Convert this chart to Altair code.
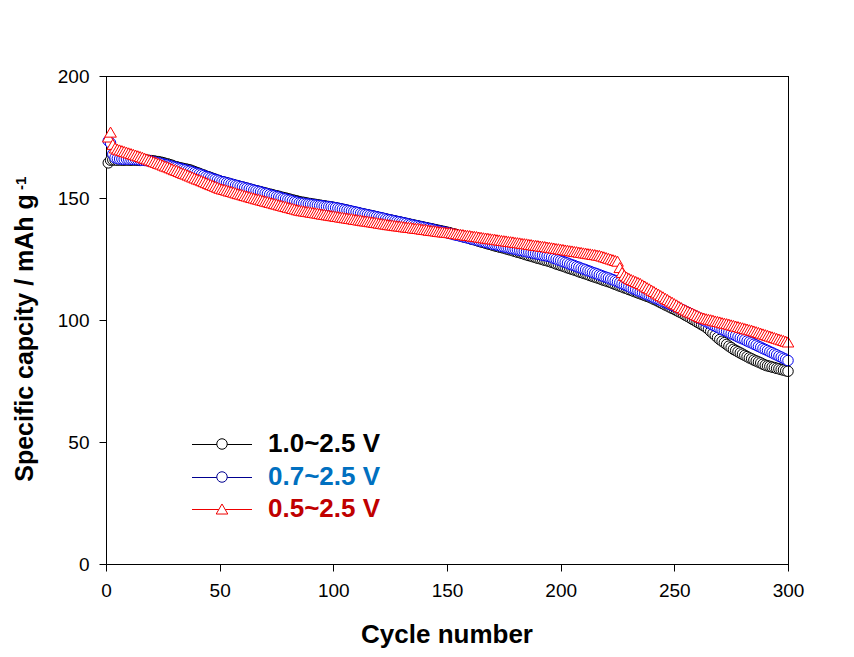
import altair as alt
import pandas as pd

# ---------------- data ----------------
cycles = list(range(1, 301))

cap_10 = [
    164.4, 165.5, 165.6, 165.6, 165.5, 165.6, 165.5, 165.5, 165.6, 165.5,
    165.5, 165.6, 165.5, 165.5, 165.4, 165.5, 165.6, 165.5, 165.4, 165.3,
    165.2, 165.0, 164.9, 164.7, 164.5, 164.2, 164.0, 163.7, 163.4, 163.0,
    162.8, 162.5, 162.3, 162.1, 161.9, 161.7, 161.5, 161.1, 160.8, 160.4,
    160.1, 159.7, 159.4, 159.0, 158.7, 158.4, 158.0, 157.7, 157.3, 157.0,
    156.7, 156.5, 156.2, 156.0, 155.7, 155.5, 155.2, 155.0, 154.7, 154.5,
    154.2, 154.0, 153.7, 153.5, 153.2, 153.0, 152.8, 152.5, 152.3, 152.1,
    151.8, 151.6, 151.4, 151.1, 150.9, 150.7, 150.4, 150.2, 150.0, 149.7,
    149.5, 149.2, 149.0, 148.8, 148.5, 148.3, 148.2, 148.0, 147.8, 147.7,
    147.5, 147.4, 147.2, 147.1, 146.9, 146.8, 146.6, 146.5, 146.3, 146.2,
    146.0, 145.8, 145.6, 145.4, 145.2, 145.0, 144.8, 144.5, 144.3, 144.1,
    143.9, 143.7, 143.5, 143.3, 143.1, 142.9, 142.7, 142.5, 142.3, 142.0,
    141.8, 141.6, 141.4, 141.2, 141.0, 140.8, 140.6, 140.4, 140.2, 140.0,
    139.8, 139.6, 139.4, 139.2, 139.0, 138.8, 138.6, 138.4, 138.2, 138.0,
    137.8, 137.6, 137.4, 137.2, 137.0, 136.8, 136.6, 136.4, 136.2, 136.0,
    135.8, 135.5, 135.3, 135.0, 134.7, 134.5, 134.2, 133.9, 133.7, 133.4,
    133.1, 132.9, 132.6, 132.3, 132.0, 131.8, 131.5, 131.2, 131.0, 130.7,
    130.4, 130.2, 129.9, 129.7, 129.5, 129.2, 128.9, 128.7, 128.4, 128.1,
    127.8, 127.6, 127.3, 127.0, 126.7, 126.4, 126.2, 125.9, 125.6, 125.3,
    125.1, 124.8, 124.5, 124.3, 124.0, 123.7, 123.4, 123.0, 122.7, 122.4,
    122.1, 121.8, 121.4, 121.1, 120.8, 120.5, 120.2, 119.8, 119.5, 119.2,
    118.9, 118.6, 118.2, 117.9, 117.6, 117.3, 117.0, 116.6, 116.3, 116.0,
    115.7, 115.4, 115.0, 114.6, 114.3, 113.9, 113.6, 113.2, 112.9, 112.5,
    112.2, 111.8, 111.5, 111.1, 110.8, 110.4, 110.1, 109.7, 109.4, 109.0,
    108.5, 108.1, 107.6, 107.1, 106.7, 106.2, 105.8, 105.3, 104.8, 104.4,
    103.9, 103.4, 103.0, 102.5, 101.9, 101.4, 100.9, 100.3, 99.8, 99.2,
    98.7, 98.1, 97.6, 97.0, 96.2, 95.3, 94.5, 93.7, 92.8, 92.0,
    91.3, 90.7, 90.0, 89.3, 88.7, 88.0, 87.5, 87.0, 86.5, 86.0,
    85.5, 85.0, 84.5, 84.1, 83.6, 83.2, 82.8, 82.4, 81.9, 81.5,
    81.2, 81.0, 80.7, 80.5, 80.2, 80.0, 79.7, 79.5, 79.2, 79.0,
]

cap_07 = [
    173.4, 172.5, 168.0, 166.5, 166.2, 166.0, 166.0, 165.9, 166.0, 165.9,
    165.9, 165.8, 165.8, 165.7, 165.6, 165.5, 165.4, 165.3, 165.2, 165.0,
    164.8, 164.6, 164.4, 164.2, 164.0, 163.7, 163.5, 163.2, 163.0, 162.7,
    162.5, 162.2, 162.0, 161.7, 161.5, 161.2, 161.0, 160.7, 160.4, 160.1,
    159.8, 159.5, 159.2, 158.8, 158.5, 158.2, 157.9, 157.6, 157.3, 157.0,
    156.7, 156.5, 156.2, 156.0, 155.7, 155.5, 155.2, 155.0, 154.7, 154.5,
    154.2, 154.0, 153.7, 153.5, 153.2, 153.0, 152.7, 152.5, 152.2, 151.9,
    151.7, 151.4, 151.1, 150.9, 150.6, 150.4, 150.1, 149.8, 149.6, 149.3,
    149.1, 148.8, 148.5, 148.3, 148.0, 147.9, 147.8, 147.6, 147.5, 147.4,
    147.3, 147.1, 147.0, 146.9, 146.8, 146.6, 146.5, 146.4, 146.3, 146.1,
    146.0, 145.8, 145.6, 145.4, 145.2, 145.0, 144.8, 144.6, 144.4, 144.2,
    144.0, 143.7, 143.5, 143.3, 143.1, 142.9, 142.7, 142.5, 142.3, 142.1,
    141.9, 141.7, 141.4, 141.2, 141.0, 140.8, 140.6, 140.4, 140.2, 140.0,
    139.8, 139.6, 139.3, 139.1, 138.9, 138.7, 138.5, 138.3, 138.1, 137.9,
    137.7, 137.5, 137.3, 137.1, 136.8, 136.6, 136.4, 136.2, 136.0, 135.8,
    135.5, 135.3, 135.0, 134.8, 134.6, 134.4, 134.1, 133.9, 133.7, 133.4,
    133.2, 133.0, 132.8, 132.5, 132.3, 132.1, 131.8, 131.6, 131.4, 131.1,
    130.9, 130.7, 130.5, 130.2, 130.0, 129.8, 129.6, 129.4, 129.2, 129.0,
    128.8, 128.6, 128.4, 128.2, 128.0, 127.8, 127.6, 127.4, 127.2, 127.0,
    126.8, 126.6, 126.4, 126.2, 126.0, 125.7, 125.3, 125.0, 124.6, 124.3,
    124.0, 123.6, 123.3, 122.9, 122.6, 122.3, 121.9, 121.6, 121.2, 120.9,
    120.6, 120.2, 119.9, 119.5, 119.2, 118.9, 118.5, 118.2, 117.8, 117.5,
    117.2, 116.8, 116.5, 116.1, 115.7, 115.3, 114.9, 114.5, 114.1, 113.7,
    113.2, 112.8, 112.4, 112.0, 111.6, 111.2, 110.8, 110.4, 110.0, 109.6,
    109.2, 108.8, 108.4, 108.0, 107.6, 107.2, 106.8, 106.4, 106.0, 105.6,
    105.2, 104.8, 104.4, 104.0, 103.5, 103.1, 102.6, 102.1, 101.7, 101.2,
    100.7, 100.3, 99.8, 99.3, 98.9, 98.4, 97.9, 97.5, 97.0, 96.6,
    96.1, 95.7, 95.3, 94.9, 94.4, 94.0, 93.6, 93.1, 92.7, 92.3,
    91.9, 91.4, 91.0, 90.6, 90.1, 89.7, 89.2, 88.8, 88.3, 87.9,
    87.5, 87.0, 86.6, 86.1, 85.7, 85.2, 84.8, 84.3, 83.9, 83.4,
]

cap_05 = [
    175.0, 177.0, 172.0, 170.5, 170.0, 169.7, 169.4, 169.1, 168.8, 168.5,
    168.2, 167.9, 167.6, 167.3, 167.0, 166.7, 166.3, 166.0, 165.6, 165.3,
    164.9, 164.6, 164.2, 163.9, 163.5, 163.1, 162.8, 162.4, 162.0, 161.6,
    161.3, 160.9, 160.5, 160.1, 159.8, 159.4, 159.0, 158.6, 158.2, 157.8,
    157.5, 157.1, 156.7, 156.3, 155.9, 155.5, 155.2, 154.8, 154.4, 154.0,
    153.7, 153.5, 153.2, 152.9, 152.7, 152.4, 152.1, 151.8, 151.6, 151.3,
    151.0, 150.8, 150.5, 150.2, 150.0, 149.7, 149.5, 149.2, 149.0, 148.7,
    148.5, 148.2, 148.0, 147.7, 147.5, 147.2, 147.0, 146.7, 146.5, 146.2,
    146.0, 145.7, 145.5, 145.2, 145.0, 144.8, 144.7, 144.5, 144.4, 144.2,
    144.1, 143.9, 143.8, 143.6, 143.4, 143.3, 143.1, 143.0, 142.8, 142.7,
    142.5, 142.4, 142.2, 142.1, 141.9, 141.8, 141.6, 141.5, 141.3, 141.2,
    141.0, 140.9, 140.7, 140.6, 140.5, 140.3, 140.2, 140.0, 139.9, 139.7,
    139.6, 139.4, 139.3, 139.1, 139.0, 138.9, 138.7, 138.6, 138.5, 138.4,
    138.2, 138.1, 138.0, 137.9, 137.7, 137.6, 137.5, 137.4, 137.2, 137.1,
    137.0, 136.8, 136.7, 136.6, 136.5, 136.3, 136.2, 136.1, 136.0, 135.9,
    135.8, 135.7, 135.5, 135.4, 135.2, 135.1, 135.0, 134.8, 134.7, 134.6,
    134.4, 134.3, 134.2, 134.0, 133.9, 133.7, 133.6, 133.5, 133.3, 133.2,
    133.1, 132.9, 132.8, 132.6, 132.5, 132.4, 132.2, 132.1, 132.0, 131.8,
    131.7, 131.6, 131.4, 131.3, 131.2, 131.0, 130.9, 130.7, 130.6, 130.5,
    130.3, 130.2, 130.1, 129.9, 129.8, 129.6, 129.5, 129.3, 129.2, 129.0,
    128.9, 128.7, 128.6, 128.4, 128.3, 128.1, 128.0, 127.8, 127.7, 127.5,
    127.4, 127.2, 127.1, 126.9, 126.8, 126.6, 126.5, 126.2, 125.9, 125.6,
    125.3, 125.0, 124.7, 124.4, 124.1, 121.5, 119.5, 118.3, 117.6, 117.1,
    116.6, 116.2, 115.8, 115.4, 115.0, 114.4, 113.9, 113.3, 112.8, 112.2,
    111.7, 111.1, 110.6, 110.0, 109.5, 108.9, 108.4, 107.8, 107.3, 106.7,
    106.2, 105.6, 105.1, 104.5, 104.1, 103.6, 103.2, 102.8, 102.3, 101.9,
    101.4, 101.0, 100.8, 100.5, 100.3, 100.1, 99.9, 99.6, 99.4, 99.2,
    98.9, 98.7, 98.5, 98.3, 98.0, 97.8, 97.5, 97.3, 97.0, 96.8,
    96.5, 96.3, 96.0, 95.8, 95.5, 95.2, 94.9, 94.6, 94.3, 94.0,
    93.7, 93.4, 93.1, 92.8, 92.5, 92.2, 91.9, 91.6, 91.3, 91.0,
]

series_labels = ["1.0~2.5 V", "0.7~2.5 V", "0.5~2.5 V"]
series_values = [cap_10, cap_07, cap_05]
line_colors = ["#000000", "#0000ee", "#ff0000"]
legend_line_colors = ["#000000", "#000090", "#ee0000"]
text_colors = ["#000000", "#0070c0", "#c00000"]
shapes = ["circle", "circle", "triangle-up"]
sizes = [110, 110, 135]

x_ticks = [0, 50, 100, 150, 200, 250, 300]
y_ticks = [0, 50, 100, 150, 200]
x_title = "Cycle number"
y_title = "Specific capcity / mAh g"
y_title_sup = "-1"

# ---------------- chart ----------------
W, H = 682, 488
FONT = "Liberation Sans"

xs = alt.Scale(domain=[0, 300], nice=False, zero=False)
ys = alt.Scale(domain=[0, 200], nice=False, zero=False)

axis_common = dict(title=None, grid=False, tickSize=7, labelPadding=10,
                   labelFontSize=19, labelFont=FONT, labelColor="#000000",
                   domainColor="#000000", tickColor="#000000",
                   labelFlush=False, domainWidth=1, tickWidth=1)
ax_x = alt.Axis(values=x_ticks, **axis_common)
ax_y = alt.Axis(values=y_ticks, **axis_common)

layers = []
for vals, col, shp, sz in zip(series_values, line_colors, shapes, sizes):
    assert len(vals) == len(cycles)
    df = pd.DataFrame({"cycle": cycles, "cap": vals})
    base = alt.Chart(df).encode(
        x=alt.X("cycle:Q", scale=xs, axis=ax_x),
        y=alt.Y("cap:Q", scale=ys, axis=ax_y),
    )
    layers.append(base.mark_line(color=col, strokeWidth=1))
    layers.append(base.mark_point(shape=shp, size=sz,
                                  fill="#ffffff", stroke=col, strokeWidth=1,
                                  opacity=1, fillOpacity=1))

one = pd.DataFrame({"k": [0]})

# crisp frame: top and right border lines
layers.append(alt.Chart(one).mark_rule(color="#000000", strokeWidth=1).encode(
    x=alt.value(0), x2=alt.value(W + 1), y=alt.value(0.5)))
layers.append(alt.Chart(one).mark_rule(color="#000000", strokeWidth=1).encode(
    x=alt.value(W + 0.5), y=alt.value(0), y2=alt.value(H + 1)))


def text_layer(txt, x, y, **kw):
    return alt.Chart(pd.DataFrame({"t": [txt]})).mark_text(font=FONT, **kw).encode(
        x=alt.value(x), y=alt.value(y), text="t:N")


# legend (inside plot, lower left)
row_y = [368, 401, 433]
for lab, col, tcol, shp, sz, ry in zip(series_labels, legend_line_colors, text_colors,
                                        shapes, sizes, row_y):
    layers.append(alt.Chart(one).mark_rule(color=col, strokeWidth=1).encode(
        x=alt.value(86), x2=alt.value(146), y=alt.value(ry + 0.5)))
    layers.append(alt.Chart(one).mark_point(shape=shp, size=sz,
                                           fill="#ffffff", stroke=col, strokeWidth=1,
                                           opacity=1, fillOpacity=1).encode(
        x=alt.value(116), y=alt.value(ry)))
    layers.append(text_layer(lab, 162, ry, align="left", baseline="middle",
                             fontSize=26, fontWeight="bold", color=tcol))

# axis titles
layers.append(text_layer(x_title, W / 2, 567, align="center", baseline="alphabetic",
                         fontSize=26, fontWeight="bold", color="#000000"))
layers.append(text_layer(y_title, -73, 262, align="center", baseline="alphabetic",
                         angle=270, fontSize=25, fontWeight="bold", color="#000000"))
layers.append(text_layer(y_title_sup, -80, 114, align="left", baseline="alphabetic",
                         angle=270, fontSize=15, fontWeight="bold", color="#000000"))

chart = alt.layer(*layers).properties(
    width=W, height=H,
    autosize="none",
    padding={"left": 98, "top": 68, "right": 50, "bottom": 85},
).configure(
    background="#ffffff"
).configure_view(
    stroke=None
)

chart.save("out.html", embed_options={"renderer": "svg", "actions": False})
